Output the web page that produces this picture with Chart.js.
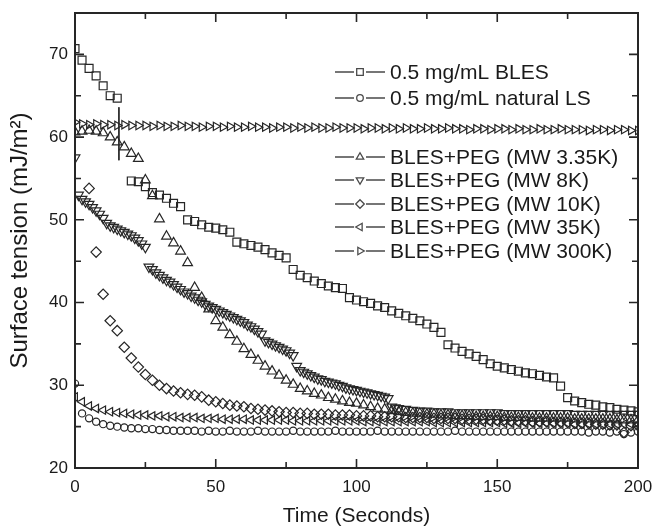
<!DOCTYPE html>
<html>
<head>
<meta charset="utf-8">
<script src="https://cdn.jsdelivr.net/npm/chart.js@4.4.1/dist/chart.umd.min.js"></script>
<style>
  html, body { margin: 0; padding: 0; background: #fff; }
</style>
</head>
<body>
<canvas id="chart-tension" width="653" height="527"></canvas>
<script>
// sampling times (s)
const time = [
    0, 2.5, 5, 7.5, 10, 12.5, 15, 17.5, 20, 22.5,
    25, 27.5, 30, 32.5, 35, 37.5, 40, 42.5, 45, 47.5,
    50, 52.5, 55, 57.5, 60, 62.5, 65, 67.5, 70, 72.5,
    75, 77.5, 80, 82.5, 85, 87.5, 90, 92.5, 95, 97.5,
    100, 102.5, 105, 107.5, 110, 112.5, 115, 117.5, 120, 122.5,
    125, 127.5, 130, 132.5, 135, 137.5, 140, 142.5, 145, 147.5,
    150, 152.5, 155, 157.5, 160, 162.5, 165, 167.5, 170, 172.5,
    175, 177.5, 180, 182.5, 185, 187.5, 190, 192.5, 195, 197.5,
    200
];
// the MW 8K run was logged more densely up to ~115 s
const time8k = [
    0, 1.25, 2.5, 3.75, 5, 6.25, 7.5, 8.75, 10, 11.25,
    12.5, 13.75, 15, 16.25, 17.5, 18.75, 20, 21.25, 22.5, 23.75,
    25, 26.25, 27.5, 28.75, 30, 31.25, 32.5, 33.75, 35, 36.25,
    37.5, 38.75, 40, 41.25, 42.5, 43.75, 45, 46.25, 47.5, 48.75,
    50, 51.25, 52.5, 53.75, 55, 56.25, 57.5, 58.75, 60, 61.25,
    62.5, 63.75, 65, 66.25, 67.5, 68.75, 70, 71.25, 72.5, 73.75,
    75, 76.25, 77.5, 78.75, 80, 81.25, 82.5, 83.75, 85, 86.25,
    87.5, 88.75, 90, 91.25, 92.5, 93.75, 95, 96.25, 97.5, 98.75,
    100, 101.25, 102.5, 103.75, 105, 106.25, 107.5, 108.75, 110, 111.25,
    112.5, 113.75, 115, 117.5, 120, 122.5, 125, 127.5, 130, 132.5,
    135, 137.5, 140, 142.5, 145, 147.5, 150, 152.5, 155, 157.5,
    160, 162.5, 165, 167.5, 170, 172.5, 175, 177.5, 180, 182.5,
    185, 187.5, 190, 192.5, 195, 197.5, 200
];

// surface tension (mJ/m2)
const bles = [
    70.7, 69.3, 68.3, 67.4, 66.2, 65.0, 64.7, null, 54.7, 54.6,
    54.0, 53.3, 53.0, 52.6, 52.0, 51.6, 50.0, 49.8, 49.4, 49.1,
    49.0, 48.8, 48.5, 47.3, 47.1, 46.9, 46.7, 46.4, 46.0, 45.7,
    45.4, 44.0, 43.3, 43.0, 42.6, 42.3, 42.0, 41.8, 41.7, 40.6,
    40.3, 40.1, 39.9, 39.6, 39.4, 39.0, 38.7, 38.4, 38.1, 37.8,
    37.4, 37.0, 36.4, 34.9, 34.5, 34.1, 33.8, 33.5, 33.1, 32.6,
    32.3, 32.1, 31.9, 31.7, 31.5, 31.4, 31.2, 31.0, 30.9, 29.9,
    28.5, 28.1, 27.9, 27.7, 27.6, 27.4, 27.3, 27.1, 27.0, 26.9,
    26.8
];
const naturalLS = [
    30.2, 26.6, 26.0, 25.6, 25.3, 25.1, 25.0, 24.9, 24.8, 24.8,
    24.7, 24.7, 24.6, 24.6, 24.5, 24.5, 24.5, 24.5, 24.4, 24.5,
    24.4, 24.4, 24.5, 24.4, 24.4, 24.4, 24.5, 24.4, 24.4, 24.4,
    24.4, 24.5, 24.4, 24.4, 24.4, 24.4, 24.4, 24.5, 24.4, 24.4,
    24.4, 24.4, 24.4, 24.5, 24.4, 24.4, 24.4, 24.4, 24.4, 24.4,
    24.4, 24.4, 24.4, 24.4, 24.5, 24.4, 24.4, 24.4, 24.4, 24.4,
    24.4, 24.4, 24.4, 24.4, 24.4, 24.4, 24.4, 24.4, 24.4, 24.4,
    24.4, 24.4, 24.4, 24.3, 24.4, 24.4, 24.3, 24.4, 24.1, 24.3,
    24.4
];
const peg3k = [
    60.6, 60.7, 60.8, 60.7, 60.5, 60.0, 59.4, 58.8, 58.0, 57.4,
    54.8, 52.9, 50.1, 48.0, 47.2, 46.2, 44.8, 41.8, 40.6, 39.2,
    37.8, 37.0, 36.1, 35.3, 34.4, 33.7, 33.0, 32.3, 31.7, 31.2,
    30.6, 30.1, 29.6, 29.3, 29.0, 28.8, 28.5, 28.3, 28.1, 27.9,
    27.8, 27.6, 27.4, 27.2, 27.1, 26.9, 26.8, 26.7, 26.6, 26.6,
    26.5, 26.5, 26.4, 26.4, 26.3, 26.3, 26.3, 26.2, 26.2, 26.2,
    26.2, 26.1, 26.1, 26.1, 26.1, 26.0, 26.0, 26.0, 26.0, 26.0,
    26.0, 25.9, 25.9, 25.9, 25.9, 25.9, 25.9, 25.8, 25.8, 25.8,
    25.8
];
const peg8k = [
    57.5, 53.0, 52.5, 52.2, 51.9, 51.5, 51.1, 50.7, 50.2, 49.6,
    49.3, 49.1, 48.9, 48.7, 48.5, 48.3, 48.1, 47.8, 47.5, 47.1,
    46.7, 44.3, 44.0, 43.6, 43.3, 43.0, 42.7, 42.5, 42.2, 41.9,
    41.6, 41.3, 41.1, 40.8, 40.6, 40.3, 40.1, 39.8, 39.6, 39.4,
    39.2, 39.0, 38.8, 38.6, 38.4, 38.2, 38.0, 37.8, 37.6, 37.3,
    37.1, 36.8, 36.5, 36.2, 35.4, 35.2, 35.0, 34.8, 34.6, 34.4,
    34.2, 33.9, 33.6, 32.3, 31.8, 31.6, 31.4, 31.2, 31.0, 30.8,
    30.7, 30.5, 30.4, 30.3, 30.2, 30.0, 29.9, 29.7, 29.6, 29.5,
    29.4, 29.3, 29.2, 29.1, 29.0, 28.9, 28.8, 28.7, 28.6, 28.4,
    27.4, 27.3, 27.2, 27.1, 27.0, 26.9, 26.9, 26.8, 26.8, 26.8,
    26.7, 26.7, 26.7, 26.7, 26.7, 26.7, 26.7, 26.6, 26.6, 26.6,
    26.6, 26.6, 26.6, 26.6, 26.6, 26.6, 26.6, 26.5, 26.5, 26.5,
    26.5, 26.5, 26.5, 26.5, 26.5, 26.5, 26.5
];
const peg10k = [
    null, null, 53.8, 46.1, 41.0, 37.8, 36.6, 34.6, 33.3, 32.2,
    31.3, 30.6, 30.0, 29.6, 29.3, 29.1, 28.9, 28.8, 28.6, 28.2,
    28.0, 27.8, 27.6, 27.5, 27.4, 27.2, 27.1, 27.0, 26.9, 26.8,
    26.7, 26.7, 26.6, 26.6, 26.5, 26.5, 26.5, 26.4, 26.4, 26.4,
    26.3, 26.3, 26.3, 26.2, 26.2, 26.2, 26.2, 26.1, 26.1, 26.1,
    26.1, 26.0, 26.0, 26.0, 26.0, 25.9, 25.9, 25.9, 25.9, 25.8,
    25.8, 25.8, 25.7, 25.7, 25.7, 25.6, 25.6, 25.6, 25.5, 25.5,
    25.5, 25.4, 25.4, 25.4, 25.3, 25.3, 25.2, 25.2, 24.3, 25.1,
    25.1
];
const peg35k = [
    28.6, 28.0, 27.5, 27.2, 27.0, 26.8, 26.7, 26.6, 26.5, 26.4,
    26.4, 26.3, 26.3, 26.2, 26.2, 26.1, 26.1, 26.1, 26.0, 26.0,
    26.0, 25.9, 25.9, 25.9, 25.9, 25.8, 25.8, 25.8, 25.8, 25.8,
    25.8, 25.7, 25.7, 25.7, 25.7, 25.7, 25.7, 25.7, 25.7, 25.7,
    25.7, 25.6, 25.6, 25.6, 25.6, 25.6, 25.6, 25.6, 25.6, 25.6,
    25.6, 25.5, 25.5, 25.5, 25.5, 25.5, 25.5, 25.5, 25.5, 25.5,
    25.5, 25.4, 25.4, 25.4, 25.4, 25.4, 25.4, 25.4, 25.4, 25.4,
    25.4, 25.3, 25.3, 25.3, 25.3, 25.3, 25.3, 25.3, 25.3, 25.3,
    25.3
];
const peg300k = [
    61.8, 61.6, 61.5, 61.6, 61.5, 61.5, 61.4, 61.5, 61.4, 61.4,
    61.4, 61.3, 61.4, 61.3, 61.3, 61.4, 61.3, 61.3, 61.2, 61.3,
    61.3, 61.2, 61.3, 61.2, 61.2, 61.3, 61.2, 61.2, 61.1, 61.2,
    61.2, 61.1, 61.2, 61.1, 61.2, 61.1, 61.1, 61.2, 61.1, 61.1,
    61.1, 61.0, 61.1, 61.1, 61.0, 61.1, 61.0, 61.1, 61.0, 61.0,
    61.1, 61.0, 61.0, 61.1, 61.0, 61.0, 60.9, 61.0, 61.0, 60.9,
    61.0, 61.0, 60.9, 61.0, 60.9, 60.9, 61.0, 60.9, 60.9, 61.0,
    60.9, 60.9, 60.9, 60.8, 60.9, 60.9, 60.8, 60.9, 60.9, 60.8,
    60.8
];

// the thin vertical stroke near t = 15.5 s
const strokeT = [15.6, 15.6];
const strokeV = [63.6, 57.2];

const seriesLabels = [
    '0.5 mg/mL BLES',
    '0.5 mg/mL natural LS',
    'BLES+PEG (MW 3.35K)',
    'BLES+PEG (MW 8K)',
    'BLES+PEG (MW 10K)',
    'BLES+PEG (MW 35K)',
    'BLES+PEG (MW 300K)'
];
const xTicks = [0, 50, 100, 150, 200];
const yTicks = [20, 30, 40, 50, 60, 70];

const INK = '#262626';
const FONT = '"Liberation Sans", Arial, Helvetica, sans-serif';

// marker look per series (style, rotation, radius)
const markers = [
    { style: 'rect', rot: 0, r: 5.6 },
    { style: 'circle', rot: 0, r: 3.6 },
    { style: 'triangle', rot: 0, r: 5.6 },
    { style: 'triangle', rot: 180, r: 5.6 },
    { style: 'rectRot', rot: 0, r: 5.2 },
    { style: 'triangle', rot: 270, r: 4.8 },
    { style: 'triangle', rot: 90, r: 4.8 }
];
const seriesValues = [bles, naturalLS, peg3k, peg8k, peg10k, peg35k, peg300k];
const seriesTimes = [time, time, time, time8k, time, time, time];

function points(times, vals) {
    return times.map((t, i) => ({ x: t, y: vals[i] }));
}

const datasets = seriesValues.map((vals, i) => ({
    label: seriesLabels[i],
    data: points(seriesTimes[i], vals),
    showLine: false,
    pointStyle: markers[i].style,
    rotation: markers[i].rot,
    pointRadius: markers[i].r,
    pointBorderWidth: 1.2,
    borderColor: INK,
    backgroundColor: 'rgba(0,0,0,0)'
}));
datasets.push({
    label: 'stroke',
    data: points(strokeT, strokeV),
    showLine: true,
    pointRadius: 0,
    borderWidth: 1,
    borderColor: INK
});

// frame with inward ticks on all four sides
const frameTicks = {
    id: 'frameTicks',
    afterDatasetsDraw(chart) {
        const { ctx, chartArea: { left, right, top, bottom }, scales: { x, y } } = chart;
        ctx.save();
        ctx.strokeStyle = INK;
        ctx.lineWidth = 1.6;
        ctx.beginPath();
        for (let v = 0; v <= 200; v += 25) {
            const px = x.getPixelForValue(v);
            const len = v % 50 === 0 ? 9 : 6;
            ctx.moveTo(px, bottom); ctx.lineTo(px, bottom - len);
            ctx.moveTo(px, top); ctx.lineTo(px, top + len);
        }
        for (let v = 20; v <= 75; v += 5) {
            const py = y.getPixelForValue(v);
            const len = v % 10 === 0 ? 9 : 6;
            ctx.moveTo(left, py); ctx.lineTo(left + len, py);
            ctx.moveTo(right, py); ctx.lineTo(right - len, py);
        }
        ctx.stroke();
        ctx.lineWidth = 2;
        ctx.strokeRect(left, top, right - left, bottom - top);
        ctx.restore();
    }
};

// Origin-style legend: —marker— label, rows spaced around the 300K trace
const legendRows = [72, 98, 157, 180, 204, 227, 251];
function drawMarker(ctx, m, cx, cy, r) {
    ctx.beginPath();
    if (m.style === 'rect') {
        ctx.rect(cx - r, cy - r, 2 * r, 2 * r);
    } else if (m.style === 'circle') {
        ctx.arc(cx, cy, r, 0, Math.PI * 2);
    } else if (m.style === 'rectRot') {
        ctx.moveTo(cx, cy - r * 1.3); ctx.lineTo(cx + r * 1.3, cy);
        ctx.lineTo(cx, cy + r * 1.3); ctx.lineTo(cx - r * 1.3, cy);
        ctx.closePath();
    } else {
        let a = m.rot * Math.PI / 180;
        const rr = r * 1.3;
        ctx.moveTo(cx + Math.sin(a) * rr, cy - Math.cos(a) * rr);
        for (let k = 0; k < 2; k++) {
            a += Math.PI * 2 / 3;
            ctx.lineTo(cx + Math.sin(a) * rr, cy - Math.cos(a) * rr);
        }
        ctx.closePath();
    }
    ctx.stroke();
}
const originLegend = {
    id: 'originLegend',
    afterDraw(chart) {
        const ctx = chart.ctx;
        ctx.save();
        ctx.strokeStyle = '#4a4a4a';
        ctx.fillStyle = '#1a1a1a';
        ctx.lineWidth = 1.3;
        ctx.font = '21px ' + FONT;
        ctx.textBaseline = 'middle';
        seriesLabels.forEach((lab, i) => {
            const yy = legendRows[i];
            ctx.beginPath();
            ctx.moveTo(335, yy); ctx.lineTo(354, yy);
            ctx.moveTo(366, yy); ctx.lineTo(385, yy);
            ctx.stroke();
            drawMarker(ctx, markers[i], 360, yy, 3.3);
            ctx.fillText(lab, 390, yy + 1);
        });
        ctx.restore();
    }
};

new Chart(document.getElementById('chart-tension'), {
    type: 'scatter',
    data: { datasets },
    options: {
        responsive: false,
        animation: false,
        devicePixelRatio: 1,
        layout: { padding: { top: 13, right: 15, left: 0, bottom: 0 } },
        plugins: { legend: { display: false }, tooltip: { enabled: false } },
        scales: {
            x: {
                type: 'linear', min: 0, max: 200,
                afterBuildTicks: s => { s.ticks = xTicks.map(v => ({ value: v })); },
                afterFit: s => { s.height = 59; s.paddingLeft = 0; s.paddingRight = 0; },
                grid: { display: false, drawTicks: false },
                border: { display: false },
                ticks: { color: '#1a1a1a', padding: 9, maxRotation: 0, font: { family: FONT, size: 17 } },
                title: { display: true, text: 'Time (Seconds)', color: '#1a1a1a', padding: 0,
                         font: { family: FONT, size: 21, lineHeight: 1 } }
            },
            y: {
                type: 'linear', min: 20, max: 75,
                afterBuildTicks: s => { s.ticks = yTicks.map(v => ({ value: v })); },
                afterFit: s => { s.width = 75; s.paddingTop = 0; s.paddingBottom = 0; },
                grid: { display: false, drawTicks: false },
                border: { display: false },
                ticks: { color: '#1a1a1a', padding: 7, font: { family: FONT, size: 17 } },
                title: { display: true, text: 'Surface tension (mJ/m²)', color: '#1a1a1a',
                         padding: { top: 8, bottom: 0 },
                         font: { family: FONT, size: 24, lineHeight: 1 } }
            }
        }
    },
    plugins: [frameTicks, originLegend]
});
</script>
</body>
</html>
